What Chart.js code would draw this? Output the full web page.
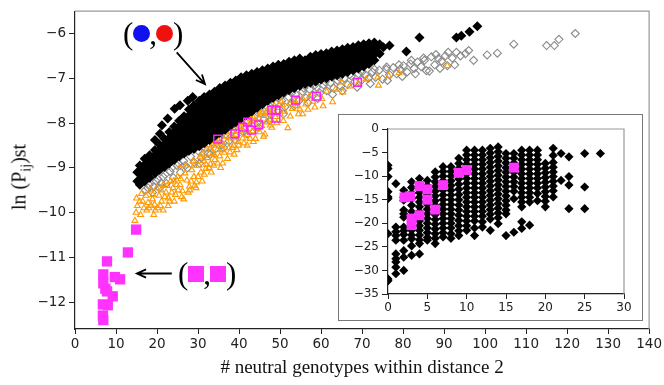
<!DOCTYPE html>
<html>
<head>
<meta charset="utf-8">
<script src="https://cdn.jsdelivr.net/npm/chart.js@4.4.0/dist/chart.umd.min.js"></script>
<style>
  html, body { margin: 0; padding: 0; background: #fff; }
  #wrap { position: relative; width: 664px; height: 385px; overflow: hidden; }
  #main { position: absolute; left: 0; top: 0; }
  #insetBox { position: absolute; left: 338px; top: 114px; width: 303px; height: 205px;
              border: 1px solid #777; background: #fff; }
  #inset { position: absolute; left: 0; top: 0; }
  .note { position: absolute; font-family: "Liberation Serif", "DejaVu Serif", serif;
          font-size: 31px; line-height: 1; color: #000; white-space: nowrap;
          display: flex; align-items: center; }
  .dot { display: inline-block; width: 17px; height: 17px; border-radius: 50%; }
  .sq { display: inline-block; width: 16px; height: 16px; background: #ff33ff; }
  .cm { margin: 0 -1px; }
  #ytitle { position: absolute; left: 21px; top: 177px; transform: translate(-50%, -50%) rotate(-90deg);
            font-family: "Liberation Serif", "DejaVu Serif", serif; font-size: 20px; color: #111; white-space: nowrap; }
  #ytitle sub { font-size: 14px; }
</style>
</head>
<body>
<div id="wrap">
  <canvas id="main" width="664" height="385"></canvas>
  <div id="ytitle">ln (P<sub>ij</sub>)st</div>
  <div class="note" style="left:123px; top:18px;">(<span class="dot" style="background:#1010f0;"></span><span class="cm">,</span><span class="dot" style="background:#f01010;"></span>)</div>
  <div class="note" style="left:178px; top:258px;">(<span class="sq"></span><span class="cm">,</span><span class="sq"></span>)</div>
  <div id="insetBox"><canvas id="inset" width="303" height="205"></canvas></div>
</div>
<script>
  // tick values
  const mainXTicks = [0, 10, 20, 30, 40, 50, 60, 70, 80, 90, 100, 110, 120, 130, 140];
  const mainYTicks = [-12, -11, -10, -9, -8, -7, -6];
  const insetXTicks = [0, 5, 10, 15, 20, 25, 30];
  const insetYTicks = [-35, -30, -25, -20, -15, -10, -5, 0];

  // black band: upper and lower outline of the dense cloud
  const blackUpper = [[15.2,-9.1],[15.8,-8.95],[17,-8.8],[18.2,-8.72],[19.5,-8.6],[20.6,-8.48],[21.8,-8.35],[23,-8.2],
    [24.2,-8.08],[25.4,-7.95],[26.6,-7.85],[27.8,-7.7],[29,-7.6],[30.3,-7.5],[31.5,-7.42],[32.8,-7.36],[34,-7.3],
    [35.3,-7.22],[36.6,-7.16],[37.9,-7.1],[39.2,-7.05],[40.5,-6.98],[41.8,-6.93],[43.1,-6.9],[44.4,-6.86],[45.7,-6.82],
    [47,-6.78],[48.3,-6.74],[49.6,-6.7],[50.9,-6.68],[52.2,-6.63],[53.5,-6.6],[54.8,-6.56],[56.1,-6.6],[57.4,-6.52],
    [58.7,-6.48],[60,-6.46],[61.3,-6.44],[62.6,-6.4],[63.9,-6.38],[65.2,-6.35],[66.5,-6.32],[67.8,-6.3],[69.1,-6.26],
    [70.4,-6.24],[71.7,-6.22],[73,-6.2],[74.3,-6.24]];
  const blackLower = [[15.2,-9.3],[15.8,-9.38],[17,-9.3],[18.2,-9.22],[19.5,-9.12],[20.6,-9.05],[21.8,-8.98],[23,-8.9],
    [24.2,-8.82],[25.4,-8.74],[26.6,-8.68],[27.8,-8.62],[29,-8.58],[30.3,-8.52],[31.5,-8.45],[32.8,-8.38],[34,-8.3],
    [35.3,-8.22],[36.6,-8.15],[37.9,-8.06],[39.2,-7.98],[40.5,-7.9],[41.8,-7.82],[43.1,-7.74],[44.4,-7.66],[45.7,-7.58],
    [47,-7.5],[48.3,-7.44],[49.6,-7.38],[50.9,-7.32],[52.2,-7.27],[53.5,-7.22],[54.8,-7.17],[56.1,-7.13],[57.4,-7.1],
    [58.7,-7.07],[60,-7.03],[61.3,-7.0],[62.6,-6.96],[63.9,-6.93],[65.2,-6.9],[66.5,-6.86],[67.8,-6.82],[69.1,-6.78],
    [70.4,-6.74],[71.7,-6.68],[73,-6.6],[74.3,-6.45]];
  // black points outside the band
  const blackLoose = [[19.5,-8.38],[20.7,-8.24],[21.2,-8.05],[22.6,-7.9],[24.3,-7.68],[25.6,-7.6],[27.5,-7.5],
    [28.7,-7.42],[75.2,-6.31],[76.7,-6.27],[80.8,-6.4],[84,-6.09],[93,-6.09],[94.2,-6.05],[96.2,-5.96],[98.1,-5.84]];

  const grayPts = [[17.2,-9.5],[18.1,-9.38],[18.9,-9.55],[19.8,-9.3],[20.6,-9.45],[21.5,-9.2],[22.3,-9.35],[23.2,-9.08],
    [24.0,-9.22],[24.9,-8.95],[25.7,-9.1],[26.5,-8.85],[27.4,-9.0],[28.2,-8.75],[29.1,-8.88],[30.0,-8.62],[30.8,-8.78],
    [31.7,-8.55],[32.5,-8.68],[33.4,-8.42],[34.2,-8.58],[35.1,-8.32],[35.9,-8.48],[36.8,-8.25],[37.6,-8.4],[38.5,-8.15],
    [39.3,-8.28],[40.2,-8.05],[41.0,-8.2],[41.9,-7.95],[42.7,-8.1],[43.6,-7.86],[44.4,-8.0],[45.3,-7.78],[46.1,-7.92],
    [47.0,-7.65],[47.8,-7.82],[48.7,-7.55],[49.5,-7.72],[50.4,-7.5],[51.2,-7.64],[52.1,-7.42],[52.9,-7.56],[53.8,-7.36],
    [54.6,-7.5],[55.5,-7.3],[56.3,-7.44],[57.2,-7.25],[58.0,-7.38],[58.9,-7.2],[59.7,-7.33],[60.6,-7.15],[61.4,-7.28],
    [62.3,-7.1],[63.1,-7.22],[64.0,-7.05],[64.8,-7.18],[65.7,-7.0],[66.5,-7.14],[67.4,-6.95],[68.2,-7.08],[69.1,-6.9],
    [69.9,-7.04],[70.8,-6.92],[71.6,-7.0],[72.5,-6.86],[73.3,-6.98],[74.2,-6.82],[75.0,-7.02],[75.9,-6.8],[76.7,-6.92],
    [77.6,-6.76],[78.4,-6.9],[79.3,-6.8],[80.1,-6.72],[81.0,-6.86],[81.8,-6.68],[82.7,-6.78],[83.5,-6.64],[84.4,-6.74],
    [85.2,-6.6],[85.7,-6.83],[86.9,-6.52],[87.7,-6.7],[88.6,-6.56],[89.4,-6.62],[90.3,-6.5],[90.8,-6.72],[92.0,-6.55],
    [93.0,-6.42],[94.0,-6.5],[95.2,-6.45],[96.0,-6.38],[97.2,-6.6],[100.5,-6.48],[103,-6.44],[107,-6.24],[115,-6.27],
    [116.9,-6.27],[118,-6.13],[122,-6.0],
    [30.4,-8.9],[33,-8.7],[36.2,-8.55],[39,-8.38],[42,-8.25],[44.8,-8.1],[47.5,-7.95],[50.8,-7.8],[53.4,-7.62],
    [56.8,-7.55],[59.2,-7.45],[62.8,-7.36],[65.2,-7.28],[68.8,-7.2],[72,-7.12],[76.2,-7.05],[79.8,-6.96],[83,-6.9],
    [86.4,-6.84],[89,-6.78],[92.6,-6.7],
    [17.8,-9.45],[19.2,-9.42],[20.2,-9.25],[21,-9.35],[22,-9.15],[23.6,-9.0],[25.2,-8.9],[26.9,-8.95],
    [50,-7.42],[52.8,-7.33],[55.8,-7.22],[58.5,-7.15],[61,-7.08],[64.5,-6.98],[67,-6.92],[70,-6.86],[73,-6.8],
    [76,-6.75],[79,-6.7],[82,-6.6],[85,-6.55],[88,-6.47],[91,-6.42]];

  const orangePts = [[14.6,-10.18],[14.9,-10.0],[15.2,-9.85],[15.0,-9.68],[15.8,-9.75],[16.2,-9.58],[16.8,-9.9],
    [17.3,-9.62],[17.8,-9.78],[18.4,-9.5],[18.9,-9.7],[19.4,-9.82],[19.9,-9.45],[20.5,-9.62],[21.1,-9.75],[21.6,-9.38],
    [22.2,-9.55],[22.8,-9.68],[23.3,-9.3],[23.9,-9.45],[24.5,-9.6],[25.0,-9.2],[25.6,-9.38],[26.2,-9.52],[26.8,-9.12],
    [27.3,-9.28],[27.9,-9.42],[28.5,-9.05],[29.0,-9.2],[29.6,-9.32],[30.2,-8.95],[30.7,-9.1],[31.3,-8.85],[31.9,-9.02],
    [32.4,-8.78],[33.0,-8.92],[33.6,-8.68],[34.1,-8.82],[34.7,-8.6],[35.3,-8.74],[35.8,-8.5],[36.4,-8.66],[37.0,-8.42],
    [37.5,-8.56],[38.1,-8.34],[38.7,-8.5],[39.2,-8.26],[39.8,-8.42],[40.4,-8.18],[40.9,-8.34],[41.5,-8.1],[42.1,-8.26],
    [42.6,-8.04],[43.2,-8.18],[43.8,-7.96],[44.3,-8.12],[44.9,-7.9],[45.5,-8.06],[46.0,-7.84],[46.6,-7.98],[47.2,-7.78],
    [47.7,-7.92],[48.3,-7.72],[48.9,-7.86],[49.4,-7.66],[50.0,-7.8],[50.6,-7.6],[51.1,-7.74],[51.9,-8.11],[52.3,-7.56],
    [53.0,-7.68],[53.6,-7.5],[54.2,-7.62],[54.8,-7.69],[55.5,-7.45],[56.3,-7.58],[57.2,-7.4],[58.0,-7.52],[59.1,-7.35],
    [60.2,-7.46],[61.4,-7.3],[62.8,-7.53],[63.5,-7.25],[65.0,-7.09],[65.3,-7.31],[67.0,-7.18],[69.0,-7.12],[71.0,-7.02],
    [73.8,-6.98],[74.0,-7.16],[76.5,-6.95],[79.0,-6.88],[90.8,-6.72],[34.0,-8.71],[32.0,-8.93],[24.8,-9.38],[28,-9.5],
    [36,-8.9],[42,-8.5],[46,-8.3],[38.8,-8.7],[20.2,-9.9],[26,-9.65],
    [18,-9.9],[19,-9.6],[21,-9.5],[22.5,-9.4],[24,-9.3],[25.5,-9.0],[27,-8.95],[28.8,-8.85],[30.5,-8.75],[32,-8.6],
    [33.5,-8.5],[35,-8.4],[36.8,-8.3],[38.5,-8.2],[40,-8.05],[41.8,-7.98],[43.5,-7.88],[45.2,-7.78],[47,-7.7],
    [48.6,-7.62],[50.3,-7.52],[23,-9.75],[29.5,-9.45],[31,-9.3],[33.2,-9.1],[35.5,-9.0],[37.2,-8.8],[39.5,-8.6],
    [44,-8.35],[48,-8.1],[55.5,-7.8],[58.5,-7.65],
    [16.5,-9.75],[17.5,-9.95],[18.6,-9.85],[19.6,-9.95],[20.8,-9.85],[21.9,-9.65],[22.7,-9.85],[23.6,-9.55],[24.2,-9.75],
    [25.2,-9.5],[26.5,-9.7],[27.6,-9.55],[28.3,-9.3],[29.2,-9.4],[30,-9.2],[31.5,-9.15],[32.7,-9.0],[33.8,-8.95],
    [34.8,-8.9],[36,-8.6],[37.8,-8.65],[38.3,-8.55],[39.9,-8.5],[41.2,-8.45],[42.7,-8.35],[43.5,-8.42],[45,-8.2],
    [46.3,-8.25],[47.6,-8.05],[49.2,-8.0],[50.8,-7.95],[52.5,-7.85],[54.5,-7.8],[56.8,-7.7],[60.5,-7.62],[16.0,-10.05],
    [19.2,-10.05],[21.5,-9.95],[25.8,-9.25],[29,-8.95],[31,-8.7],[33,-8.55],[34.5,-8.45],[37,-8.2],[39,-8.1],[41,-8.0],
    [43,-7.9],[45.8,-7.75],[49.8,-7.6]];

  const magentaOpen = [[34.8,-8.36],[39,-8.24],[40.9,-8.09],[42.1,-7.98],[43.1,-8.16],[44.8,-8.04],[48,-7.71],
    [49,-7.71],[49,-7.89],[53.8,-7.49],[58.9,-7.4],[68.9,-7.09]];
  const magentaFilled = [[14.9,-10.38],[12.9,-10.89],[7.8,-11.09],[6.9,-11.38],[6.9,-11.58],[9.7,-11.44],[11.0,-11.49],
    [7.8,-11.76],[9.2,-11.87],[6.8,-12.05],[8.0,-12.07],[6.8,-12.3],[6.9,-12.4],[7.4,-11.7]];

  // inset: y values per integer x column
  const insetCols = [
    [0, [-7.7, -8.4, -10.1, -13.3, -14.4, -14.8, -22.2, -31.8, -32.2]],
    [1, [-11.6, -20.8, -21.8, -22.6, -23.6, -26.5, -27.5, -28.2, -29.3, -30.7]],
    [2, [-13, -14.5, -15.1, -17.2, -18, -18.7, -20.8, -21.6, -22.4, -23.6, -25.8, -27.2, -30]],
    [3, [-11.2, -12.4, -13.6, -14.8, -16.2, -17.5, -18.5, -19.5, -20.5, -21.5, -22.5, -23.3, -24.8, -26.8]],
    [4, [-10.5, -11.5, -12.5, -13.5, -14.5, -15.5, -16.5, -17.5, -18.5, -19.5, -20.5, -21.5, -22.5, -23.5, -24.3, -26.5]],
    [5, [-10.9, -12, -13, -14, -15, -16, -17, -18, -19, -20, -21, -22, -23, -23.6]],
    [6, [-9.1, -10.2, -11.2, -12.2, -13.2, -14.2, -15.2, -16.2, -17.2, -18.2, -19.2, -20.2, -21.2, -22.2, -23.2, -24.3]],
    [7, [-8, -9, -10, -11, -12, -13, -14, -15, -16, -17, -18, -19, -20, -21, -22, -22.9]],
    [8, [-8, -9, -10, -11, -12, -13, -14, -15, -16, -17, -18, -19, -20, -21, -22.2, -23.2]],
    [9, [-6.2, -7.3, -8.4, -9.5, -10.6, -11.7, -12.8, -13.9, -15, -16.1, -17.2, -18.3, -19.4, -20.5, -21.6, -22.6]],
    [10, [-4.5, -5.5, -6.5, -7.5, -8.5, -9.5, -10.5, -11.5, -12.5, -13.5, -14.5, -15.5, -16.5, -17.5, -18.5, -19.5, -20.5, -21.5]],
    [11, [-4.5, -5.5, -6.5, -7.5, -8.5, -9.5, -10.5, -11.5, -12.5, -13.5, -14.5, -15.5, -16.5, -17.5, -18.5, -19.5, -21, -22.6]],
    [12, [-4.5, -5.5, -6.5, -7.5, -8.5, -9.5, -10.5, -11.5, -12.5, -13.5, -14.5, -15.5, -16.5, -17.5, -18.5, -19.7, -20.8]],
    [13, [-4.1, -5.1, -6.1, -7.1, -8.1, -9.1, -10.1, -11.1, -12.1, -13.1, -14.1, -15.1, -16.1, -17.1, -18.1, -19.1, -21.5]],
    [14, [-3.8, -4.8, -5.8, -6.8, -7.8, -8.8, -9.8, -10.8, -11.8, -12.8, -13.8, -14.8, -15.8, -16.8, -17.8, -18.8, -20.1]],
    [15, [-5.2, -6.2, -7.2, -8.2, -9.2, -10.2, -11.2, -12.2, -13.2, -14.2, -15.2, -16.2, -17.2, -18, -22.6]],
    [16, [-5.2, -6.2, -7.2, -8.2, -9.2, -10.2, -11.2, -12.2, -13.2, -14.8, -21.9]],
    [17, [-4.5, -5.5, -6.5, -7.5, -8.5, -9.5, -10.5, -11.5, -12.5, -13.5, -14.5, -15.5, -16.5, -19.7, -21.1]],
    [18, [-4.5, -5.5, -6.5, -7.5, -8.5, -9.5, -10.5, -11.5, -12.5, -13.5, -14.5, -15.5, -20.4]],
    [19, [-4.5, -5.5, -6.5, -7.5, -8.5, -9.5, -10.5, -11.5, -12.5, -13.7, -15.2]],
    [20, [-7.3, -8.3, -9.3, -10.3, -11.3, -12.3, -13.3, -14.3, -15.3, -16.5]],
    [21, [-4.1, -5.6, -7.1, -8.1, -9.1, -10.1, -11.1, -12.1, -13.1, -14.4]],
    [22, [-5.2, -10.9]],
    [23, [-5.9, -10.1, -11.9, -16.9]],
    [25, [-5.2, -12.3, -16.9]],
    [27, [-5.2]]
  ];
  const insetMagenta = [[2.1,-14.5],[2.8,-14.3],[4,-12.1],[5,-12.8],[5,-15],[6,-17.1],[7,-11.9],[3,-19],
    [3,-20.4],[4,-18.3],[9,-9.3],[10,-8.7],[16,-8.2]];

  // annotation arrows, in data coordinates
  const arrows = [
    { from: [24.8, -6.42], to: [31.7, -7.13] },
    { from: [23.6, -11.36], to: [15.1, -11.36] }
  ];

  const toXY = (pts) => pts.map((p) => ({ x: p[0], y: p[1] }));
  const insetBlack = [];
  insetCols.forEach((c) => c[1].forEach((v) => insetBlack.push({ x: c[0], y: v })));

  const minus = (v) => String(v).replace("-", "\u2212");

  const spinePlugin = {
    id: "spines",
    beforeDatasetsDraw(chart, args, opts) {
      const { ctx, chartArea: a } = chart;
      ctx.save();
      ctx.strokeStyle = opts.color || "#999";
      ctx.lineWidth = 1.2;
      ctx.beginPath();
      ctx.moveTo(a.left, a.top);
      ctx.lineTo(a.right, a.top);
      ctx.lineTo(a.right, a.bottom);
      ctx.stroke();
      ctx.restore();
    },
  };

  const arrowPlugin = {
    id: "arrows",
    afterDatasetsDraw(chart) {
      const { ctx, scales } = chart;
      ctx.save();
      ctx.strokeStyle = "#000";
      ctx.lineWidth = 1.8;
      arrows.forEach((a) => {
        const x0 = scales.x.getPixelForValue(a.from[0]);
        const y0 = scales.y.getPixelForValue(a.from[1]);
        const x1 = scales.x.getPixelForValue(a.to[0]);
        const y1 = scales.y.getPixelForValue(a.to[1]);
        const ang = Math.atan2(y1 - y0, x1 - x0);
        ctx.beginPath();
        ctx.moveTo(x0, y0);
        ctx.lineTo(x1, y1);
        ctx.moveTo(x1 - 10 * Math.cos(ang - 0.42), y1 - 10 * Math.sin(ang - 0.42));
        ctx.lineTo(x1, y1);
        ctx.lineTo(x1 - 10 * Math.cos(ang + 0.42), y1 - 10 * Math.sin(ang + 0.42));
        ctx.stroke();
      });
      ctx.restore();
    },
  };

  function axis(ticks, min, max, fontSize, tickLen, pad, fit) {
    return {
      type: "linear",
      min: min,
      max: max,
      afterBuildTicks: (s) => { s.ticks = ticks.map((v) => ({ value: v })); },
      afterFit: fit,
      ticks: { callback: minus, color: "#222", padding: pad, autoSkip: false, maxRotation: 0,
               font: { family: "DejaVu Sans", size: fontSize } },
      grid: { drawOnChartArea: false, tickLength: tickLen, color: "#222", tickWidth: 1 },
      border: { color: "#222", width: 1.2 },
    };
  }

  const mainX = axis(mainXTicks, 0, 140, 13.5, 5, 2, (s) => { s.height = 56; });
  mainX.title = { display: true, text: "# neutral genotypes within distance 2", color: "#111",
                  font: { family: "Liberation Serif", size: 19 }, padding: { top: 0, bottom: 6 } };
  const mainY = axis(mainYTicks, -12.6, -5.5, 13.5, 6, 3, (s) => { s.width = 75; });

  new Chart(document.getElementById("main"), {
    type: "scatter",
    data: {
      datasets: [
        { data: toXY(magentaFilled), pointStyle: "rect", pointRadius: 7.3, backgroundColor: "#ff33ff",
          borderColor: "#ff33ff", borderWidth: 0 },
        { data: toXY(magentaOpen), pointStyle: "rect", pointRadius: 5.5, backgroundColor: "rgba(0,0,0,0)",
          borderColor: "#ff1aff", borderWidth: 1.5 },
        { data: toXY(blackLoose), pointStyle: "rectRot", pointRadius: 5, backgroundColor: "#000",
          borderColor: "#000", borderWidth: 0 },
        { data: toXY(blackUpper), pointStyle: "rectRot", pointRadius: 5, backgroundColor: "#000",
          borderColor: "#000", borderWidth: 0, showLine: true, tension: 0 },
        { data: toXY(blackLower), pointStyle: "rectRot", pointRadius: 5, backgroundColor: "#000",
          borderColor: "#000", borderWidth: 0, showLine: true, tension: 0, fill: "-1" },
        { data: toXY(orangePts), pointStyle: "triangle", pointRadius: 3.4, backgroundColor: "rgba(0,0,0,0)",
          borderColor: "#ff9a00", borderWidth: 1.1 },
        { data: toXY(grayPts), pointStyle: "rectRot", pointRadius: 4, backgroundColor: "rgba(0,0,0,0)",
          borderColor: "#8a8a8a", borderWidth: 1.1 },
      ],
    },
    options: {
      responsive: false,
      animation: false,
      events: [],
      layout: { autoPadding: false, padding: { left: 0, top: 8, right: 14, bottom: 0 } },
      plugins: { legend: { display: false }, tooltip: { enabled: false }, spines: { color: "#999" } },
      scales: { x: mainX, y: mainY },
    },
    plugins: [spinePlugin, arrowPlugin],
  });

  new Chart(document.getElementById("inset"), {
    type: "scatter",
    data: {
      datasets: [
        { data: toXY(insetMagenta), pointStyle: "rect", pointRadius: 7, backgroundColor: "#ff33ff",
          borderColor: "#ff33ff", borderWidth: 0 },
        { data: insetBlack, pointStyle: "rectRot", pointRadius: 4.6, backgroundColor: "#000",
          borderColor: "#000", borderWidth: 0 },
      ],
    },
    options: {
      responsive: false,
      animation: false,
      events: [],
      layout: { autoPadding: false, padding: { left: 0, top: 14, right: 18, bottom: 0 } },
      plugins: { legend: { display: false }, tooltip: { enabled: false }, spines: { color: "#999" } },
      scales: {
        x: axis(insetXTicks, 0, 30, 12, 5, 2, (s) => { s.height = 26; }),
        y: axis(insetYTicks, -35, 0, 12, 6, 3, (s) => { s.width = 49; }),
      },
    },
    plugins: [spinePlugin],
  });
</script>
</body>
</html>
